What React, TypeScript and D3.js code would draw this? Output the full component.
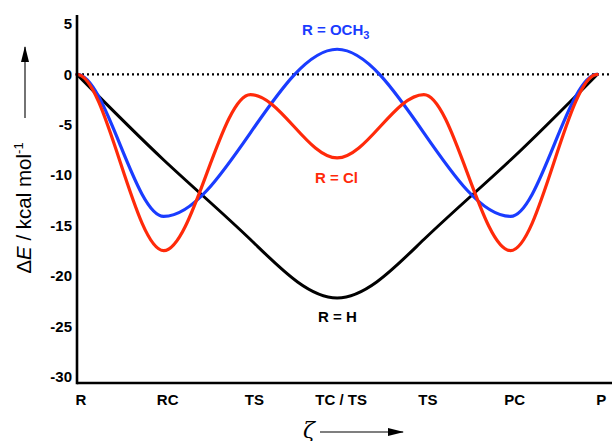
import React from 'react';
import * as d3 from 'd3';

// reaction coordinate: 0 = R, 1 = RC, 2 = TS, 3 = TC/TS, 4 = TS, 5 = PC, 6 = P
const zetaH = [0, 1, 2, 3, 4, 5, 6];
const energyH = [0, -8.5, -16.4, -22.2, -16.4, -8.5, 0];

// stationary points only (flat tangents there)
const zetaOCH3 = [0, 1, 3, 5, 6];
const energyOCH3 = [0, -14.1, 2.5, -14.1, 0];

const zetaCl = [0, 1, 2, 3, 4, 5, 6];
const energyCl = [0, -17.5, -2.0, -8.3, -2.0, -17.5, 0];

const stageLabels = ['R', 'RC', 'TS', 'TC / TS', 'TS', 'PC', 'P'];
const yTicks = [5, 0, -5, -10, -15, -20, -25, -30];

const W = 612;
const H = 441;
const font = '"Liberation Sans", Arial, Helvetica, sans-serif';
const blue = '#1a3cff';
const red = '#ff2a0a';

// cubic Hermite through every point with a horizontal tangent at each one
function curveStationary(context: any) {
  let x0 = NaN, y0 = NaN, started = false;
  return {
    areaStart() {},
    areaEnd() {},
    lineStart() { started = false; },
    lineEnd() {},
    point(x: number, y: number) {
      if (!started) {
        context.moveTo(x, y);
        started = true;
      } else {
        const h = (x - x0) / 3;
        context.bezierCurveTo(x0 + h, y0, x - h, y, x, y);
      }
      x0 = x;
      y0 = y;
    },
  };
}

export default function App() {
  const x = d3.scaleLinear().domain([0, 6.17]).range([77, 612]);
  const y = d3.scaleLinear().domain([-30.65, 5.9]).range([383, 15]);

  const makeLine = (zs: number[], curve: any) =>
    d3.line<number>()
      .x((_, i) => x(zs[i]))
      .y(d => y(d))
      .curve(curve);

  const series = [
    { d: makeLine(zetaH, d3.curveNatural)(energyH), color: '#000', width: 3 },
    { d: makeLine(zetaOCH3, curveStationary)(energyOCH3), color: blue, width: 3.2 },
    { d: makeLine(zetaCl, curveStationary)(energyCl), color: red, width: 3.2 },
  ];

  return (
    <svg width={W} height={H} style={{ position: 'absolute', left: 0, top: 0, background: '#fff' }}>
      <defs>
        <marker id="arrBig" viewBox="0 0 16 8" refX="15" refY="4" markerWidth="16" markerHeight="8"
          markerUnits="userSpaceOnUse" orient="auto">
          <path d="M0,0 L16,4 L0,8 Z" fill="#000" />
        </marker>
      </defs>

      {/* zero reference */}
      <line x1={x(0)} x2={612} y1={y(0)} y2={y(0)} stroke="#000" strokeWidth={2.2} strokeDasharray="2,3" />

      {series.map((s, i) => (
        <path key={i} d={s.d || ''} fill="none" stroke={s.color} strokeWidth={s.width}
          strokeLinejoin="round" strokeLinecap="round" />
      ))}

      {/* axes */}
      <line x1={x(0)} x2={x(0)} y1={y(5.9)} y2={y(-30.65) + 1.3} stroke="#000" strokeWidth={2.6} />
      <line x1={x(0)} x2={612} y1={y(-30.65)} y2={y(-30.65)} stroke="#000" strokeWidth={2.6} />

      {yTicks.map(t => (
        <text key={t} x={72} y={y(t)} dy="0.36em" textAnchor="end" fontFamily={font}
          fontWeight="bold" fontSize={15}>{t}</text>
      ))}

      {stageLabels.map((l, i) => (
        <text key={i} x={x(i) + 4} y={405} textAnchor="middle" fontFamily={font}
          fontWeight="bold" fontSize={15}>{l}</text>
      ))}

      {/* axis titles */}
      <text x={309} y={443} textAnchor="middle" fontFamily='"DejaVu Serif", "Liberation Serif", serif'
        fontStyle="italic" fontSize={22} dy="-0.25em">ζ</text>
      <line x1={320} x2={403} y1={432} y2={432} stroke="#000" strokeWidth={1.1} markerEnd="url(#arrBig)" />

      <text transform="translate(31,208) rotate(-90)" textAnchor="middle" fontFamily={font} fontSize={20.5}>
        Δ<tspan fontStyle="italic">E</tspan> / kcal mol<tspan fontSize={13} dy="-8">-1</tspan>
      </text>
      <line x1={25} x2={25} y1={118} y2={47} stroke="#000" strokeWidth={1.1} markerEnd="url(#arrBig)" />

      {/* series annotations */}
      <text x={302} y={35} fontFamily={font} fontWeight="bold" fontSize={15} fill={blue}>
        R = OCH<tspan fontSize={11} dy="4">3</tspan>
      </text>
      <text x={315} y={183} fontFamily={font} fontWeight="bold" fontSize={15} fill={red}>R = Cl</text>
      <text x={318} y={322} fontFamily={font} fontWeight="bold" fontSize={15} fill="#000">R = H</text>
    </svg>
  );
}
